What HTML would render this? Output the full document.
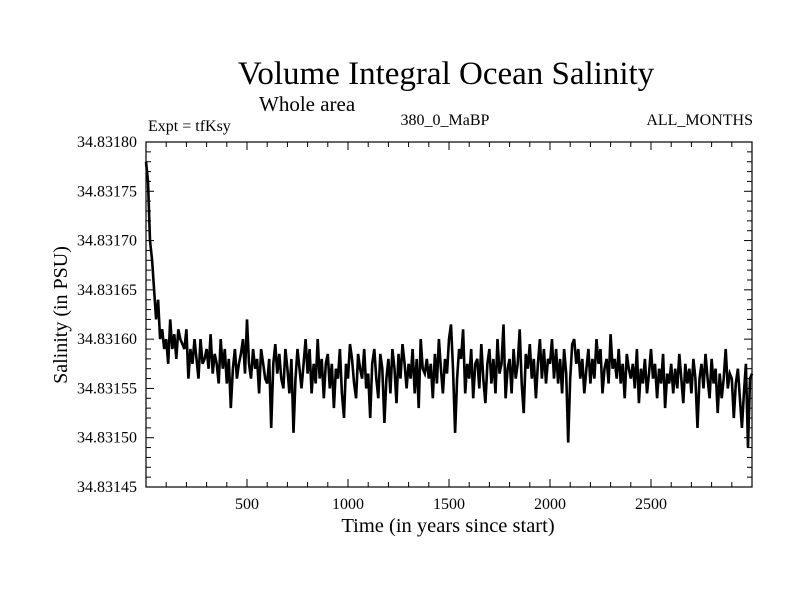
<!DOCTYPE html>
<html><head><meta charset="utf-8"><style>
body{margin:0;background:#fff}
svg text{font-family:"Liberation Serif",serif;fill:#000}
</style></head><body>
<svg id="chart" width="800" height="600">
<text x="446" y="84" font-size="33" text-anchor="middle">Volume Integral Ocean Salinity</text>
<text x="259" y="111" font-size="21">Whole area</text>
<text x="148" y="131" font-size="16">Expt = tfKsy</text>
<text x="445" y="125" font-size="16" text-anchor="middle">380_0_MaBP</text>
<text x="753" y="125" font-size="16" text-anchor="end">ALL_MONTHS</text>
<text x="448" y="532" font-size="20.5" text-anchor="middle">Time (in years since start)</text>
<text transform="translate(67,315) rotate(-90)" font-size="20" text-anchor="middle">Salinity (in PSU)</text>
<g id="axes"></g>
<rect x="146" y="142" width="606" height="345" fill="none" stroke="#000" stroke-width="1.2"/>
</svg>
<script>
const years = [];
const salinity = [780,760,700,680,650,620,640,600,610,590,
600,575,620,590,605,580,610,600,595,590,
610,560,590,575,600,580,560,600,575,580,
590,570,605,565,585,575,555,600,570,590,
555,580,530,570,590,560,575,585,600,565,
620,575,560,590,570,580,545,590,575,560,
555,580,510,575,595,565,585,560,550,590,
570,545,580,505,560,590,570,550,575,600,
565,590,545,575,555,600,560,580,540,575,
585,550,575,530,570,560,590,545,520,575,
560,595,580,555,540,585,570,560,590,550,
565,520,575,590,560,540,585,570,515,560,
580,545,590,570,535,585,560,595,575,550,
575,560,590,545,580,530,600,570,565,580,
560,575,540,585,555,600,570,545,580,565,
600,615,570,505,560,590,580,610,545,575,
560,590,540,575,580,550,595,560,535,575,
590,555,580,545,600,565,575,615,540,570,
580,545,590,560,575,610,555,525,585,570,
595,560,580,540,575,600,560,590,555,580,
575,600,560,590,555,580,545,590,565,495,
560,595,600,575,590,560,580,545,570,590,
555,580,560,600,575,590,545,570,580,555,
605,570,580,560,590,555,575,540,585,570,
560,575,550,590,535,570,555,580,545,565,
590,560,575,540,570,555,585,530,565,555,
575,545,570,550,585,560,535,575,555,570,
545,580,560,510,560,575,550,585,560,540,
580,555,570,525,565,540,560,590,550,565,
560,520,555,570,540,510,545,575,490,560,565];
for(let i=0;i<salinity.length;i++) years.push(i*10);
const xTicks=[500,1000,1500,2000,2500];
const yTickLabels=["34.83145","34.83150","34.83155","34.83160","34.83165","34.83170","34.83175","34.83180"];
const ns="http://www.w3.org/2000/svg";
const L=146,R=752,T=142,B=487,X0=0,X1=3000,Y0=450,Y1=800;
const sx=v=>L+(v-X0)/(X1-X0)*(R-L);
const sy=v=>B-(v-Y0)/(Y1-Y0)*(B-T);
const g=document.getElementById('axes');
function mk(tag,attrs){const e=document.createElementNS(ns,tag);for(const k in attrs)e.setAttribute(k,attrs[k]);g.appendChild(e);return e;}
for(let x=100;x<3000;x+=100){
  const len=x%500===0?8:5;
  let t=mk('line',{x1:sx(x),x2:sx(x),y1:B,y2:B-len,stroke:'#000'});
  
  
  let t2=mk('line',{x1:sx(x),x2:sx(x),y1:T,y2:T+len,stroke:'#000'});
  
  
}
xTicks.forEach(x=>{
  const e=mk('text',{x:sx(x),y:B+22,'font-size':16,'text-anchor':'middle'});
  e.textContent=x;
  
  
});
for(let v=460;v<800;v+=10){
  const len=v%50===0?8:5;
  let t=mk('line',{x1:L,x2:L+len,y1:sy(v),y2:sy(v),stroke:'#000'});
  
  
  let t2=mk('line',{x1:R,x2:R-len,y1:sy(v),y2:sy(v),stroke:'#000'});
  
  
}
yTickLabels.forEach((lab,i)=>{
  const e=mk('text',{x:L-9,y:sy(Y0+i*50)+5,'font-size':16,'text-anchor':'end'});
  e.textContent=lab;
  
  
});
const d=salinity.map((v,i)=>(i?'L':'M')+sx(years[i]).toFixed(1)+','+sy(v).toFixed(1)).join('');
const p=mk('path',{d:d,fill:'none',stroke:'#000','stroke-width':2.6,'stroke-linejoin':'miter'});


</script>
</body></html>
